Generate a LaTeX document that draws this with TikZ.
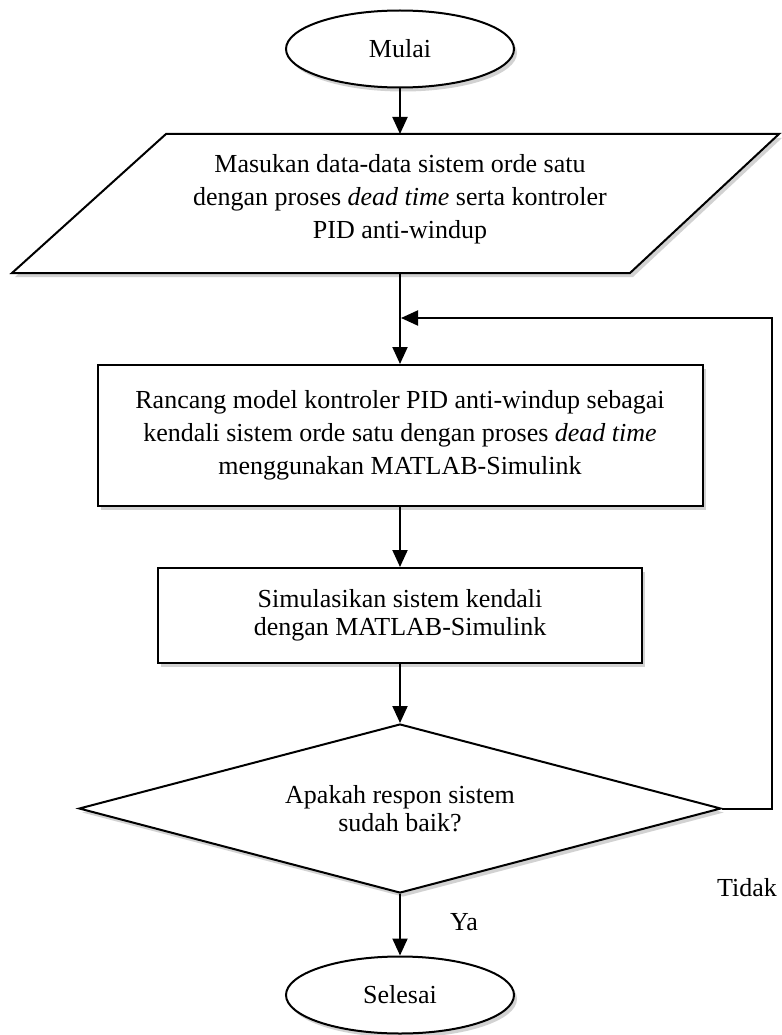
\documentclass[tikz,border=0pt]{standalone}
\usepackage{fontspec}
\setmainfont{Liberation Serif}
\usetikzlibrary{shapes.geometric,arrows.meta,shadows}
\begin{document}
\begin{tikzpicture}[x=1pt,y=-1pt,
  txt/.style={font=\fontsize{26}{31}\selectfont},
  line/.style={line width=2pt},
  arr/.style={line width=2pt,-{Triangle[length=17pt,width=15pt]}},
  shp/.style={draw, line width=2pt, fill=white,
    drop shadow={shadow xshift=3pt,shadow yshift=-4pt,opacity=0.35}},
  term/.style={shp, txt, ellipse, minimum width=228pt, minimum height=77pt, inner sep=0pt},
  proc/.style={shp, rectangle, align=center, inner sep=0pt},
  dec/.style={shp, diamond, aspect=3.8, align=center, inner sep=0pt,
    minimum width=642pt, minimum height=169pt}
]
\fill[white] (0,0) rectangle (781,1035);
\useasboundingbox (0,0) rectangle (781,1035);

% start
\node[term] (start) at (400,49) {Mulai};

% input parallelogram
\coordinate (pTL) at (166,134);
\coordinate (pTR) at (779,134);
\coordinate (pBR) at (630,273);
\coordinate (pBL) at (12,273);
\draw[shp] (pTL) -- (pTR) -- (pBR) -- (pBL) -- cycle;
\coordinate (inTop) at (400,134);
\coordinate (inBot) at (400,273);
\node[align=center, font=\fontsize{26}{33}\selectfont] (input) at (400,199)
  {Masukan data-data sistem orde satu\\
   dengan proses \textit{dead time} serta kontroler\\
   PID anti-windup};

% design box
\node[proc, font=\fontsize{26}{33}\selectfont, minimum width=605pt, minimum height=141pt] (design) at (400,435.5)
  {Rancang model kontroler PID anti-windup sebagai\\
   kendali sistem orde satu dengan proses \textit{dead time}\\
   menggunakan MATLAB-Simulink};

% simulate box
\node[proc, font=\fontsize{26}{28}\selectfont, minimum width=484pt, minimum height=95pt] (sim) at (400,615.5)
  {Simulasikan sistem kendali\\
   dengan MATLAB-Simulink};

% decision
\node[dec, font=\fontsize{26}{28}\selectfont] (check) at (400,808.5)
  {Apakah respon sistem\\ sudah baik?};

% end
\node[term] (finish) at (400,995) {Selesai};

% labels
\node[txt] (tidak) at (747,888) {Tidak};
\node[txt] (ya) at (464,922) {Ya};

% connectors
\draw[arr] (start) -- (inTop);
\draw[arr] (inBot) -- (design.north);
\draw[arr] (design.south) -- (sim.north);
\draw[arr] (sim.south) -- (check.north);
\draw[arr] (check.south) -- (finish.north);

\coordinate (fbA) at (772,808.5);
\coordinate (fbB) at (772,318);
\coordinate (fbJ) at (401,318);
\draw[arr] (check.east) -- (fbA) -- (fbB) -- (fbJ);
\end{tikzpicture}
\end{document}
